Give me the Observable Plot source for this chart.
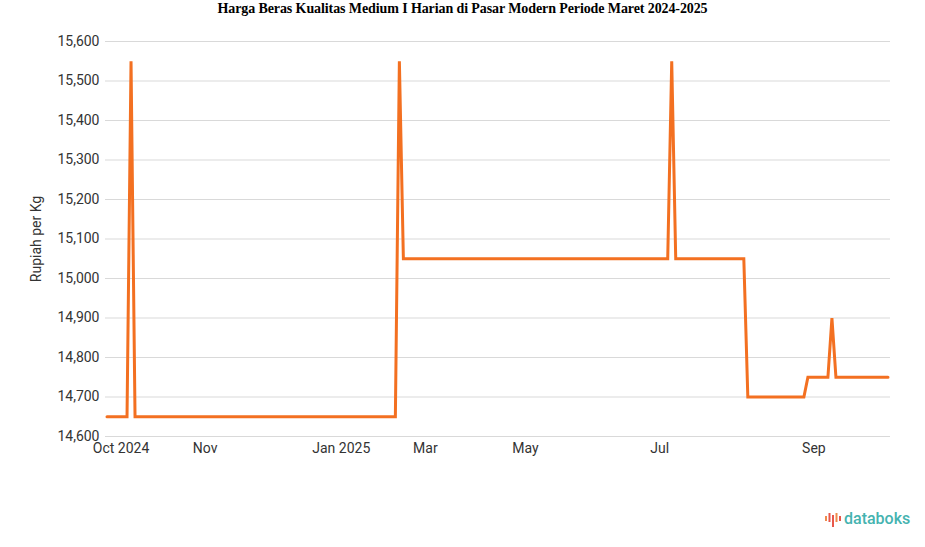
<!DOCTYPE html>
<html>
<head>
<meta charset="utf-8">
<script src="https://cdn.jsdelivr.net/npm/d3@7"></script>
<script src="https://cdn.jsdelivr.net/npm/@observablehq/plot@0.6"></script>
<style>
  html, body { margin: 0; padding: 0; background: #fff; }
  #wrap { position: relative; width: 925px; height: 547px; overflow: hidden; }
  #title { position: absolute; left: 0; top: 1px; width: 925px; text-align: center;
    font-family: "Liberation Serif", "Times New Roman", serif; font-weight: bold; font-size: 14px; color: #000; letter-spacing: -0.1px; }
  #chart { position: absolute; left: 0; top: 0; }
  #logo { position: absolute; left: 824px; top: 509px; display: flex; align-items: center; gap: 2px;
    font-family: Roboto, sans-serif; font-size: 16px; color: #45b3b0; font-weight: 500; }
</style>
</head>
<body>
<div id="wrap">
  <div id="chart"></div>
  <div id="title">Harga Beras Kualitas Medium I Harian di Pasar Modern Periode Maret 2024-2025</div>
  <div id="logo">
    <svg width="18" height="18" viewBox="0 0 18 18">
      <rect x="1" y="6" width="2" height="5" fill="#f08a4b"/>
      <rect x="4.5" y="3" width="2" height="9" fill="#e8574b"/>
      <rect x="8" y="5" width="2" height="12" fill="#e8574b"/>
      <rect x="11.5" y="3" width="2" height="9" fill="#f08a4b"/>
      <rect x="15" y="6" width="2" height="5" fill="#e8574b"/>
    </svg>
    <span>databoks</span>
  </div>
</div>
<script>
// Observation index (trading-day order) and price in Rupiah per Kg at each change point
const obsIndex = [0, 5, 6, 7, 72, 73, 74, 140, 141, 142, 159, 160, 174, 175, 180, 181, 182, 195];
const price    = [14650, 14650, 15550, 14650, 14650, 15550, 15050, 15050, 15550, 15050, 15050, 14700, 14700, 14750, 14750, 14900, 14750, 14750];

// x-axis tick positions (observation index) and labels
const xTickPos    = [3.5, 24.5, 58.5, 79.5, 104.5, 138, 176.5];
const xTickLabels = ["Oct 2024", "Nov", "Jan 2025", "Mar", "May", "Jul", "Sep"];

// y-axis ticks
const yTicks = [14600, 14700, 14800, 14900, 15000, 15100, 15200, 15300, 15400, 15500, 15600];

const data = obsIndex.map((i, k) => ({i, v: price[k]}));
const labelMap = new Map(xTickPos.map((p, k) => [p, xTickLabels[k]]));

const chart = Plot.plot({
  width: 925,
  height: 547,
  marginTop: 41,
  marginBottom: 111,
  marginLeft: 105,
  marginRight: 35,
  style: {fontFamily: "Roboto, sans-serif", fontSize: "14px", color: "#333", background: "transparent"},
  x: {domain: [0, 195], insetLeft: 1.5, insetRight: 2.5},
  y: {domain: [14600, 15600]},
  marks: [
    Plot.gridY(yTicks, {stroke: "#d9d9d9", strokeOpacity: 1, strokeWidth: 1}),
    Plot.axisY(yTicks, {tickSize: 0, tickPadding: 6, tickFormat: d => d.toLocaleString("en-US"),
      label: "Rupiah per Kg", labelAnchor: "center", labelArrow: "none", labelOffset: 74, fontSize: 14}),
    Plot.axisX(xTickPos, {tickSize: 0, tickPadding: 7, tickFormat: d => labelMap.get(d), label: null, fontSize: 14}),
    Plot.line(data, {x: "i", y: "v", stroke: "#f37021", strokeWidth: 3, strokeLinejoin: "miter", strokeMiterlimit: 2})
  ]
});
document.getElementById("chart").appendChild(chart);
</script>
</body>
</html>
